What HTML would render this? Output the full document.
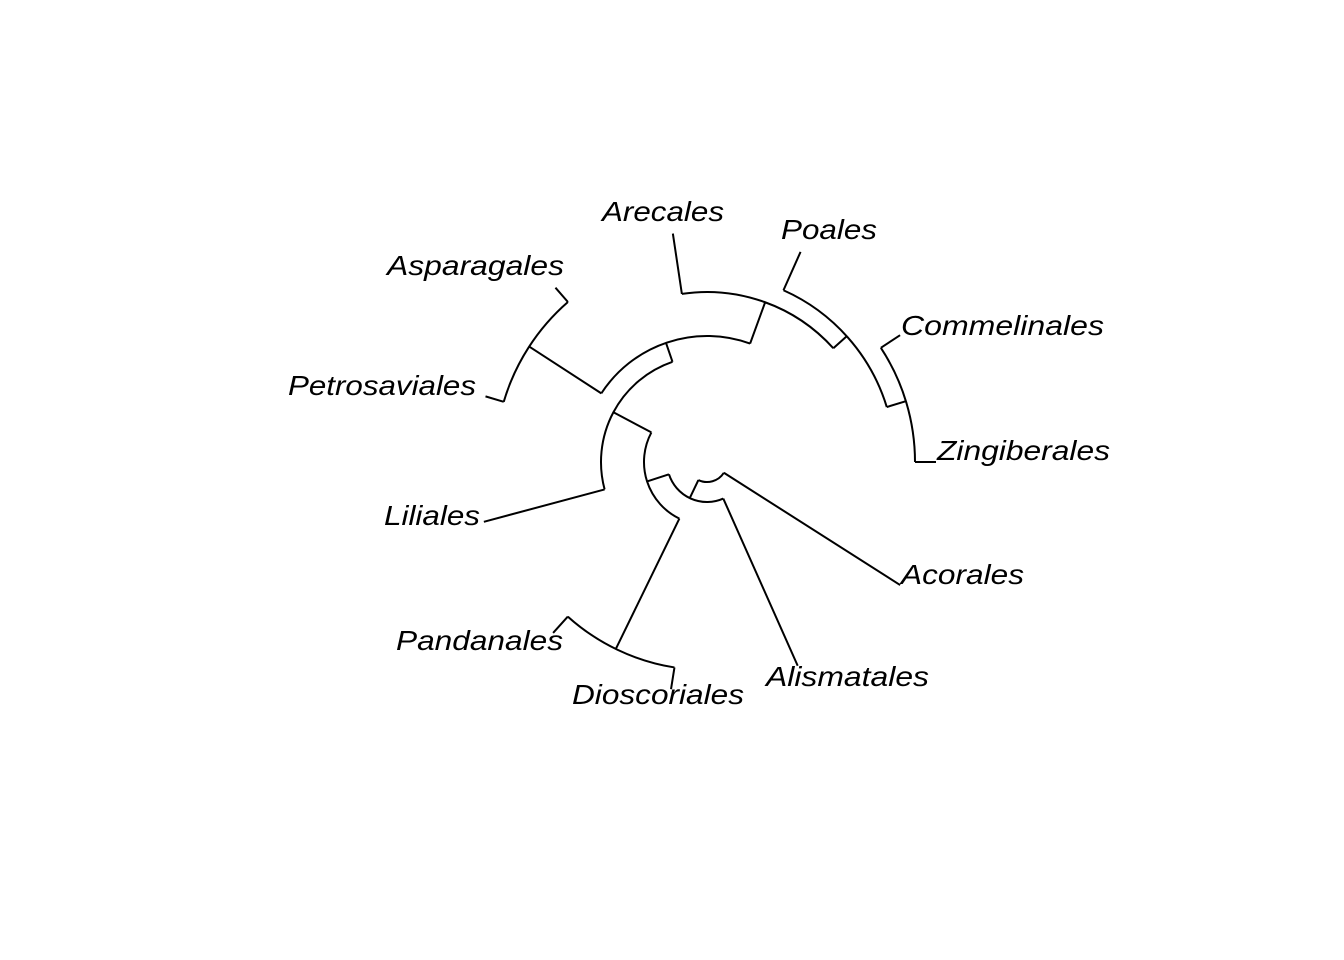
<!DOCTYPE html>
<html><head><meta charset="utf-8"><style>
html,body{margin:0;padding:0;background:#fff;}
svg{display:block;}
text{font-family:"Liberation Sans",Arial,sans-serif;font-style:italic;font-size:28px;fill:#000;}
</style></head><body>
<svg id="s" width="1344" height="960" viewBox="0 0 1344 960" xmlns="http://www.w3.org/2000/svg">
<path id="p" fill="none" stroke="#000" stroke-width="2" d=""/>
<text x="602" y="221" textLength="122" lengthAdjust="spacingAndGlyphs">Arecales</text>
<text x="781" y="239" textLength="96" lengthAdjust="spacingAndGlyphs">Poales</text>
<text x="387" y="275" textLength="177" lengthAdjust="spacingAndGlyphs">Asparagales</text>
<text x="901" y="335" textLength="203" lengthAdjust="spacingAndGlyphs">Commelinales</text>
<text x="288" y="395" textLength="188" lengthAdjust="spacingAndGlyphs">Petrosaviales</text>
<text x="937" y="460" textLength="173" lengthAdjust="spacingAndGlyphs">Zingiberales</text>
<text x="384" y="525" textLength="96" lengthAdjust="spacingAndGlyphs">Liliales</text>
<text x="901" y="584" textLength="123" lengthAdjust="spacingAndGlyphs">Acorales</text>
<text x="396" y="650" textLength="167" lengthAdjust="spacingAndGlyphs">Pandanales</text>
<text x="766" y="686" textLength="163" lengthAdjust="spacingAndGlyphs">Alismatales</text>
<text x="572" y="704" textLength="172" lengthAdjust="spacingAndGlyphs">Dioscoriales</text>
</svg>
<script>
var cx=707,cy=462,d="";
function P(r,a){var t=a*Math.PI/180;return [(cx+r*Math.cos(t)).toFixed(2),(cy+r*Math.sin(t)).toFixed(2)];}
function rad(a,r1,r2){var p=P(r1,a),q=P(r2,a);d+="M"+p[0]+" "+p[1]+"L"+q[0]+" "+q[1];}
function arc(r,a1,a2){var p=P(r,a1),q=P(r,a2);var large=(a2-a1)>180?1:0;d+="M"+p[0]+" "+p[1]+"A"+r+" "+r+" 0 "+large+" 1 "+q[0]+" "+q[1];}
arc(20,32.5,115.5);
rad(32.5,20,229);
rad(115.5,20,40);
arc(40,66,162);
rad(66,40,223);
rad(162,40,63);
arc(63,116,208);
rad(116,63,208);
arc(208,99,132);
rad(99,208,230); rad(132,208,230);
rad(208,63,106);
arc(106,165,251);
rad(165,106,231);
rad(251,106,126);
arc(126,213,290);
rad(213,126,212);
arc(212,196.5,229);
rad(196.5,212,231); rad(229,212,231);
rad(290,126,170);
arc(170,261.5,318);
rad(261.5,170,231);
rad(318,170,188);
arc(188,294,343);
rad(294,188,230);
rad(343,188,208);
arc(208,326.7,360);
rad(326.7,208,231); rad(360,208,229);
document.getElementById("p").setAttribute("d",d);
</script>
</body></html>
